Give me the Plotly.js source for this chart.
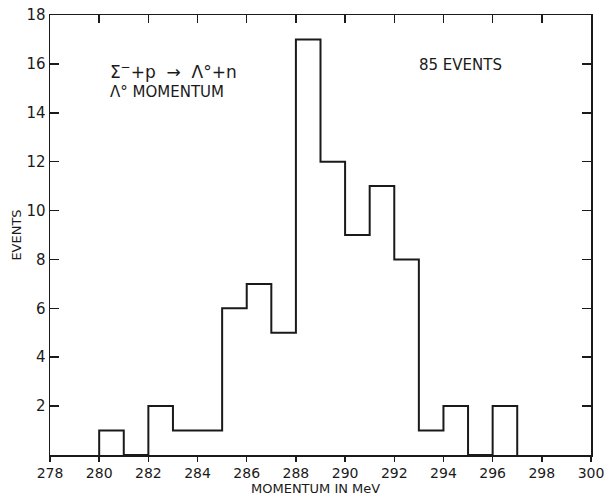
<!DOCTYPE html>
<html>
<head>
<meta charset="utf-8">
<script src="https://cdn.plot.ly/plotly-3.0.1.min.js"></script>
<style>html,body{margin:0;padding:0;background:#fff;}#chart{width:608px;height:497px;}</style>
</head>
<body>
<div id="chart"></div>
<script>
// Bin edges (MeV) and event counts per 1 MeV bin
const binEdges = [280,281,282,283,284,285,286,287,288,289,290,291,292,293,294,295,296,297];
const counts   = [1,0,2,1,1,6,7,5,17,12,9,11,8,1,2,0,2];
const xTickVals = [278,280,282,284,286,288,290,292,294,296,298,300];
const yTickVals = [2,4,6,8,10,12,14,16,18];

// step outline built from the data
const stepX = [binEdges[0]].concat(binEdges);
const stepY = [0].concat(counts).concat([0]);

const ink = '#1a1a1a';
const font = {family: 'DejaVu Sans, Liberation Sans, sans-serif', color: ink};

const traces = [
  {x: stepX, y: stepY, type: 'scatter', mode: 'lines', line: {shape: 'hv', color: ink, width: 2}, hoverinfo: 'none', showlegend: false},
  {x: [278, 300], y: [0, 0], xaxis: 'x2', type: 'scatter', mode: 'lines', line: {width: 0}, hoverinfo: 'none', showlegend: false}
];

const layout = {
  width: 608, height: 497,
  margin: {l: 50, r: 17, t: 15, b: 42},
  paper_bgcolor: '#fff', plot_bgcolor: '#fff',
  showlegend: false,
  xaxis: {
    range: [278, 300], tickvals: xTickVals, ticks: 'outside', ticklen: 5, tickwidth: 1.5, tickcolor: ink,
    showline: true, linecolor: ink, linewidth: 1.5, mirror: true, showgrid: false, zeroline: false,
    tickfont: Object.assign({size: 14}, font)
  },
  xaxis2: {
    range: [278, 300], overlaying: 'x', side: 'top', tickvals: xTickVals, ticks: 'inside', ticklen: 8, tickwidth: 1.5,
    tickcolor: ink, showticklabels: false, showline: false, showgrid: false, zeroline: false
  },
  yaxis: {
    range: [0, 18], tickvals: yTickVals, ticks: 'inside', ticklen: 9, tickwidth: 1.5, tickcolor: ink,
    showline: true, linecolor: ink, linewidth: 1.5, mirror: 'ticks', showgrid: false, zeroline: false,
    tickfont: Object.assign({size: 15}, font),
    title: {text: 'EVENTS', font: Object.assign({size: 13}, font), standoff: 2}
  },
  annotations: [
    {x: 0.49, y: -0.076, xref: 'paper', yref: 'paper', xanchor: 'center', yanchor: 'middle', showarrow: false,
     text: 'MOMENTUM IN MeV', font: Object.assign({size: 13}, font)},
    {x: 280.35, y: 15.7, xref: 'x', yref: 'y', xanchor: 'left', yanchor: 'middle', showarrow: false,
     text: 'Σ<sup>−</sup>+p  →  Λ°+n', font: Object.assign({size: 17}, font)},
    {x: 280.35, y: 14.85, xref: 'x', yref: 'y', xanchor: 'left', yanchor: 'middle', showarrow: false,
     text: 'Λ° MOMENTUM', font: Object.assign({size: 15}, font)},
    {x: 294.7, y: 15.95, xref: 'x', yref: 'y', xanchor: 'center', yanchor: 'middle', showarrow: false,
     text: '85 EVENTS', font: Object.assign({size: 15}, font)}
  ]
};

Plotly.newPlot('chart', traces, layout, {displayModeBar: false, staticPlot: true});
</script>
</body>
</html>
